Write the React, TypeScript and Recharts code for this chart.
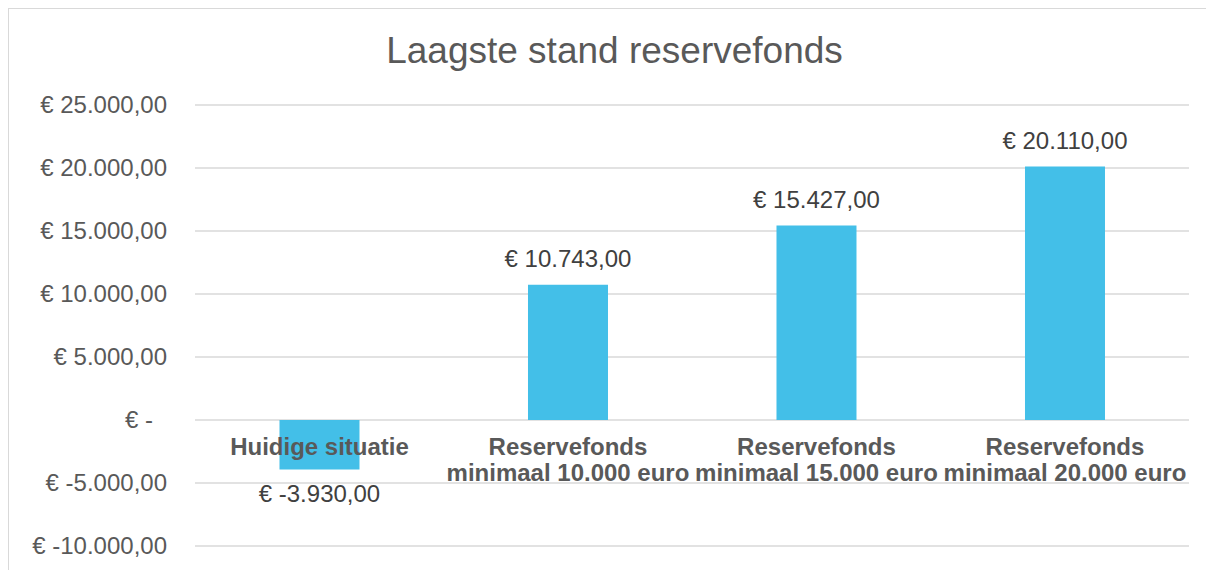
import { BarChart, Bar, XAxis, YAxis, CartesianGrid, LabelList } from 'recharts';

// ─── Data ────────────────────────────────────────────────────────────────────
const CATEGORIES = [
  'Huidige situatie',
  'Reservefonds minimaal 10.000 euro',
  'Reservefonds minimaal 15.000 euro',
  'Reservefonds minimaal 20.000 euro',
];

// how Excel wrapped the category labels
const CATEGORY_LINES = [
  ['Huidige situatie'],
  ['Reservefonds', 'minimaal 10.000 euro'],
  ['Reservefonds', 'minimaal 15.000 euro'],
  ['Reservefonds', 'minimaal 20.000 euro'],
];

const VALUES = [-3930, 10743, 15427, 20110];

const Y_TICKS = [-10000, -5000, 0, 5000, 10000, 15000, 20000, 25000];

const TITLE = 'Laagste stand reservefonds';

const data = CATEGORIES.map((name, i) => ({ name, value: VALUES[i] }));

// ─── Style ───────────────────────────────────────────────────────────────────
const FONT = '"Liberation Sans", Arial, sans-serif';
const BAR_COLOUR = '#43BFE8';
const GRID_COLOUR = '#D9D9D9';
const AXIS_TEXT = '#595959';
const LABEL_TEXT = '#404040';

const CHART_W = 1205;
const CHART_H = 561;

// € 25.000,00 style (Dutch accounting format)
function euro(v: number): string {
  if (v === 0) return '€ -';
  const neg = v < 0;
  const abs = Math.abs(v);
  const int = Math.floor(abs).toString().replace(/\B(?=(\d{3})+(?!\d))/g, '.');
  const dec = Math.round((abs - Math.floor(abs)) * 100).toString().padStart(2, '0');
  return `€ ${neg ? '-' : ''}${int},${dec}`;
}

function YTick({ x, y, payload }: any) {
  const v = payload.value as number;
  return (
    <text
      x={x}
      y={y}
      dx={v === 0 ? -14 : 0}
      dy="0.35em"
      textAnchor="end"
      fontFamily={FONT}
      fontSize={24}
      fill={AXIS_TEXT}
    >
      {euro(v)}
    </text>
  );
}

// Draws the value label and the category name (which Excel puts under the zero line)
function BarLabels(props: any) {
  const { x, y, width, height, index } = props;
  const v = VALUES[index];
  const top = Math.min(y, y + height);
  const bottom = Math.max(y, y + height);
  const zero = v >= 0 ? bottom : top;
  const cx = x + width / 2;
  const lines = CATEGORY_LINES[index];
  return (
    <g>
      <text
        x={cx}
        y={v >= 0 ? top - 18 : bottom + 32}
        textAnchor="middle"
        fontFamily={FONT}
        fontSize={24}
        fill={LABEL_TEXT}
      >
        {euro(v)}
      </text>
      {lines.map((ln, i) => (
        <text
          key={i}
          x={cx}
          y={zero + 35 + i * 26}
          textAnchor="middle"
          fontFamily={FONT}
          fontSize={24}
          fontWeight="bold"
          fill={AXIS_TEXT}
        >
          {ln}
        </text>
      ))}
    </g>
  );
}

export default function App() {
  return (
    <div
      style={{
        position: 'relative',
        width: CHART_W,
        height: CHART_H,
        borderTop: `1px solid ${GRID_COLOUR}`,
        borderLeft: `1px solid ${GRID_COLOUR}`,
        background: '#fff',
        overflow: 'hidden',
      }}
    >
      <div
        style={{
          position: 'absolute',
          left: 0,
          width: 1211,
          top: 23,
          textAlign: 'center',
          fontFamily: FONT,
          fontSize: 37,
          lineHeight: '37px',
          color: AXIS_TEXT,
          zIndex: 1,
        }}
      >
        {TITLE}
      </div>
      <BarChart
        width={CHART_W}
        height={CHART_H}
        data={data}
        margin={{ top: 96, right: 25, bottom: 24, left: 0 }}
        barCategoryGap="34%"
      >
        <CartesianGrid vertical={false} stroke={GRID_COLOUR} strokeWidth={1.5} />
        <XAxis dataKey="name" hide />
        <YAxis
          type="number"
          domain={[-10000, 25000]}
          ticks={Y_TICKS}
          interval={0}
          width={186}
          axisLine={false}
          tickLine={false}
          tickSize={0}
          tickMargin={28}
          tick={<YTick />}
        />
        <Bar dataKey="value" fill={BAR_COLOUR} isAnimationActive={false}>
          <LabelList dataKey="value" content={<BarLabels />} />
        </Bar>
      </BarChart>
    </div>
  );
}
